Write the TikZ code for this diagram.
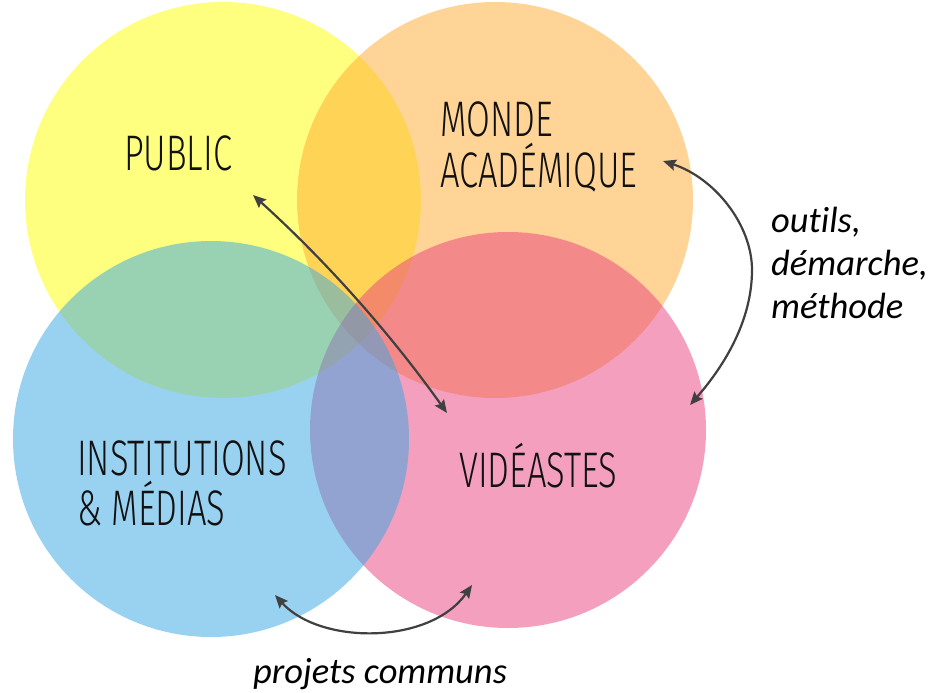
\documentclass[tikz,border=0pt]{standalone}
\usepackage{fontspec}
\usetikzlibrary{arrows.meta}
\newfontfamily\lblfont{Fira Sans}[UprightFont={* Light},FakeStretch=0.69]
\newfontfamily\notefont{Carlito}[Ligatures={NoCommon,NoRare,NoDiscretionary}]
\definecolor{cyel}{RGB}{255,255,0}
\definecolor{corg}{RGB}{255,171,47}
\definecolor{cblu}{RGB}{53,167,229}
\definecolor{cpnk}{RGB}{233,65,125}
\definecolor{carr}{RGB}{64,64,64}
\definecolor{ctxt}{RGB}{17,17,17}
\tikzset{
  disc/.style={fill=#1, fill opacity=0.5, draw=none},
  biglabel/.style={font=\lblfont\fontsize{50}{51}\selectfont, text=ctxt, inner sep=0pt, anchor=base west},
  note/.style={font=\notefont\itshape\fontsize{36.5}{43}\selectfont, text=black, inner sep=0pt, anchor=base west},
  link/.style={carr, line width=2.2pt, {Stealth[length=13pt,width=11pt,inset=2pt]}-{Stealth[length=13pt,width=11pt,inset=2pt]}}
}
\begin{document}
\begin{tikzpicture}[x=1pt,y=-1pt]
\useasboundingbox (0,0) rectangle (932,693);
\fill[white] (0,0) rectangle (932,693);
\path[disc=cyel] (223,200) circle[radius=198];
\path[disc=corg] (495,200) circle[radius=198];
\path[disc=cpnk] (508,430) circle[radius=198];
\path[disc=cblu] (211,439) circle[radius=198];

\node[biglabel] (public) at (124,170) {PUBLIC};
\node[biglabel] (monde) at (440,136) {MONDE};
\node[biglabel] (acad) at (440,187) {ACADÉMIQUE};
\node[biglabel] (inst) at (77,475) {INSTITUTIONS};
\node[biglabel] (medias) at (77,525) {\& MÉDIAS};
\node[biglabel] (video) at (459,487) {VIDÉASTES};

\node[note] (outils) at (771,232) {outils,};
\node[note] (demarche) at (771,275) {démarche,};
\node[note] (methode) at (771,318) {méthode};
\node[note] (projets) at (253,683) {projets communs};

\coordinate (a1s) at (253,195);
\coordinate (a1e) at (447,413);
\coordinate (a2s) at (663,161);
\coordinate (a2m) at (752,270);
\coordinate (a2e) at (690,405);
\coordinate (a3s) at (275,595);
\coordinate (a3e) at (472,585);

\draw[link] (a1s) .. controls (326,261) and (390,333) .. (a1e);
\draw[link] (a2s) .. controls (715,178) and (752,225) .. (a2m) .. controls (752,320) and (725,365) .. (a2e);
\draw[link] (a3s) .. controls (320,645) and (430,645) .. (a3e);
\end{tikzpicture}
\end{document}
